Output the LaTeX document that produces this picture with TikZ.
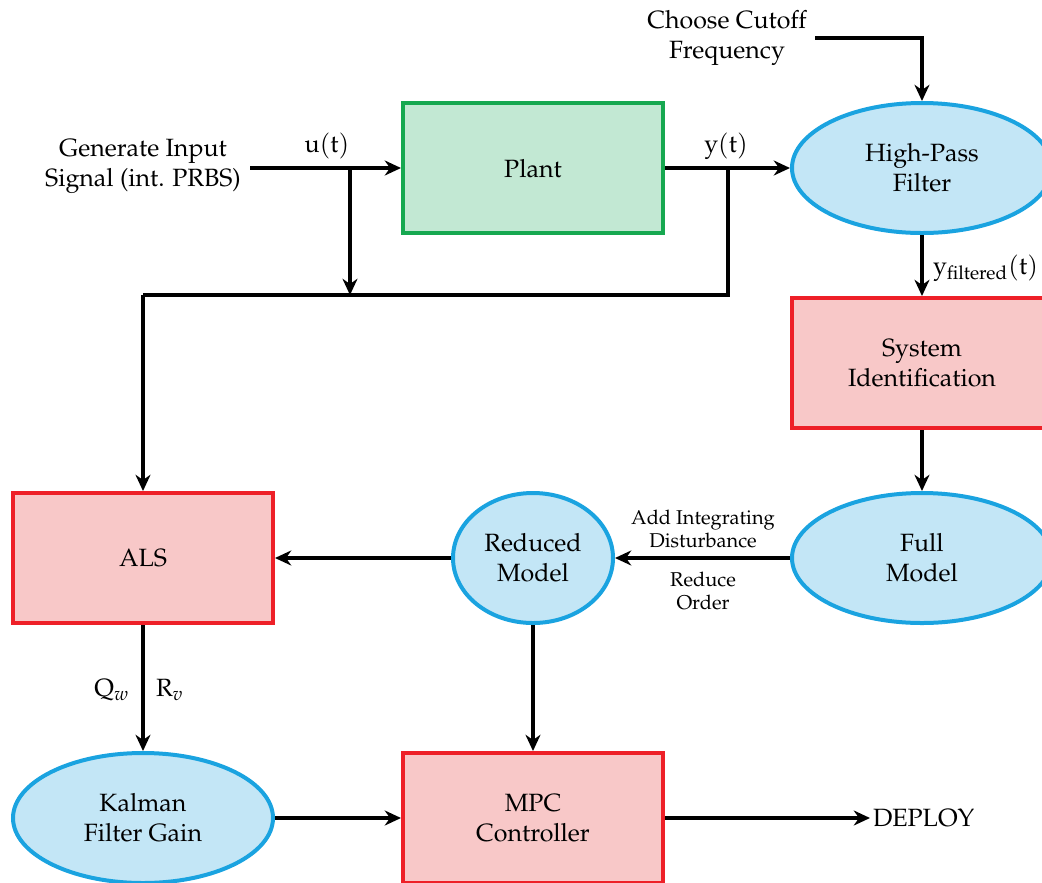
\documentclass[tikz,border=0pt]{standalone}
\usepackage[T1]{fontenc}
\usepackage{amsmath}
\usepackage{mathpazo}
\usetikzlibrary{arrows.meta,shapes.geometric}
\definecolor{rborder}{HTML}{EE2028}
\definecolor{rfill}{HTML}{F8C8C8}
\definecolor{gborder}{HTML}{16A850}
\definecolor{gfill}{HTML}{C2E8D3}
\definecolor{bborder}{HTML}{1AA3E0}
\definecolor{bfill}{HTML}{C3E6F6}
\tikzset{
  redbox/.style={rectangle, draw=rborder, fill=rfill, line width=1.6pt, minimum width=104pt, minimum height=52pt, align=center, inner sep=0pt},
  greenbox/.style={rectangle, draw=gborder, fill=gfill, line width=1.6pt, minimum width=104pt, minimum height=52pt, align=center, inner sep=0pt},
  blueell/.style={ellipse, draw=bborder, fill=bfill, line width=1.6pt, minimum width=104pt, minimum height=52pt, align=center, inner sep=0pt},
  smallell/.style={blueell, minimum width=64pt},
  plain/.style={align=center, inner sep=1pt},
  lab/.style={align=center, inner sep=0pt, font=\footnotesize},
  conn/.style={line width=1.5pt, -{Stealth[length=6.5pt,width=6pt]}},
  line/.style={line width=1.5pt},
}
\begin{document}
\begin{tikzpicture}[x=0.4pt, y=-0.4pt]
\useasboundingbox (0,0) rectangle (1042,882);
% nodes
\node[greenbox] (plant) at (533,168) {Plant};
\node[blueell] (hpf) at (922,168) {High-Pass\\Filter};
\node[redbox] (sysid) at (922,363) {System\\Identification};
\node[blueell] (full) at (922,558) {Full\\Model};
\node[smallell] (red) at (533,558) {Reduced\\Model};
\node[redbox] (als) at (143,558) {ALS};
\node[blueell] (kal) at (143,818) {Kalman\\Filter Gain};
\node[redbox] (mpc) at (533,818) {MPC\\Controller};
\node[plain, anchor=west] (dep) at (870,818) {DEPLOY};
\node[plain] (gen) at (143,166) {Generate Input\\Signal (int. PRBS)};
\node[plain] (cut) at (727,38) {Choose Cutoff\\Frequency};
% coordinates
\coordinate (b1) at (350,168);
\coordinate (b2) at (728,168);
\coordinate (j1) at (350,295);
\coordinate (j2) at (728,295);
\coordinate (j3) at (143,295);
\coordinate (c0) at (815,38);
\coordinate (c1) at (922,38);
\coordinate (g0) at (250,168);
% connectors
\draw[conn] (g0) -- (plant.west);
\draw[conn] (b1) -- (j1);
\draw[conn] (plant.east) -- (hpf.west);
\draw[line] (b2) -- (j2) -- (j3);
\draw[conn] (j3) -- (als.north);
\draw[conn] (c0) -- (c1) -- (hpf.north);
\draw[conn] (hpf.south) -- (sysid.north);
\draw[conn] (sysid.south) -- (full.north);
\draw[conn] (full.west) -- (red.east);
\draw[conn] (red.west) -- (als.east);
\draw[conn] (als.south) -- (kal.north);
\draw[conn] (red.south) -- (mpc.north);
\draw[conn] (kal.east) -- (mpc.west);
\draw[conn] (mpc.east) -- (dep.west);
% labels
\node[plain] (lu) at (327,146) {$\mathrm{u}(\mathrm{t})$};
\node[plain] (ly) at (726,146) {$\mathrm{y}(\mathrm{t})$};
\node[plain, anchor=west] (lyf) at (930,268) {$\mathrm{y}_{\text{filtered}}(\mathrm{t})$};
\node[lab] (ladd) at (703,529) {Add Integrating\\Disturbance};
\node[lab] (lred) at (703,591) {Reduce\\Order};
\node[plain] (lq) at (112,690) {$\mathrm{Q}_w$};
\node[plain] (lr) at (170,690) {$\mathrm{R}_v$};
\end{tikzpicture}
\end{document}
